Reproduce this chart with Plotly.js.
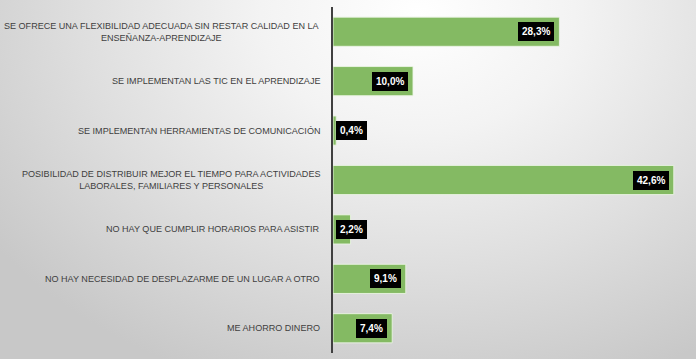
<!DOCTYPE html>
<html>
<head>
<meta charset="utf-8">
<script src="https://cdn.plot.ly/plotly-3.0.1.min.js"></script>
<style>
  html, body { margin: 0; padding: 0; }
  body {
    width: 696px; height: 359px; overflow: hidden;
    background: radial-gradient(ellipse 75% 110% at 60% 4%, #ffffff 0%, #f3f3f3 30%, #dedede 65%, #c8c8c8 100%);
  }
  #chart { width: 696px; height: 359px; }
</style>
</head>
<body>
<div id="chart"></div>
<script>
const categories = [
  "SE OFRECE UNA FLEXIBILIDAD ADECUADA SIN RESTAR CALIDAD EN LA<br>ENSEÑANZA-APRENDIZAJE",
  "SE IMPLEMENTAN LAS TIC EN EL APRENDIZAJE",
  "SE IMPLEMENTAN HERRAMIENTAS DE COMUNICACIÓN",
  "POSIBILIDAD DE DISTRIBUIR MEJOR EL TIEMPO PARA ACTIVIDADES<br>LABORALES, FAMILIARES Y PERSONALES",
  "NO HAY QUE CUMPLIR HORARIOS PARA ASISTIR",
  "NO HAY NECESIDAD DE DESPLAZARME DE UN LUGAR A OTRO",
  "ME AHORRO DINERO"
];
const values = [28.3, 10.0, 0.4, 42.6, 2.2, 9.1, 7.4];
const valueLabels = ["28,3%", "10,0%", "0,4%", "42,6%", "2,2%", "9,1%", "7,4%"];

const FONT = "'Liberation Sans', Arial, sans-serif";

const trace = {
  type: 'bar',
  orientation: 'h',
  x: values,
  y: categories,
  marker: { color: '#84BA63', line: { color: 'rgba(235,245,228,0.9)', width: 1 } },
  hoverinfo: 'none'
};

const annotations = [];
categories.forEach((c, i) => {
  annotations.push({
    xref: 'paper', yref: 'y', x: 0, y: c,
    xanchor: 'right', yanchor: 'middle', xshift: -11,
    text: c, showarrow: false, align: 'center',
    font: { family: FONT, size: 9.05, color: '#404040' }
  });
  const small = values[i] < 5;
  annotations.push({
    xref: 'x', yref: 'y',
    x: small ? 0 : values[i], y: c,
    xanchor: small ? 'left' : 'right', yanchor: 'middle',
    xshift: small ? 3 : -5,
    text: '<b>' + valueLabels[i] + '</b>', showarrow: false,
    bgcolor: '#000000', borderpad: 4, borderwidth: 0,
    font: { family: FONT, size: 10, color: '#ffffff' }
  });
});

const layout = {
  width: 696, height: 359,
  margin: { l: 333, r: 3, t: 7, b: 6 },
  paper_bgcolor: 'rgba(0,0,0,0)',
  plot_bgcolor: 'rgba(0,0,0,0)',
  bargap: 0.41,
  showlegend: false,
  xaxis: { range: [0, 45], visible: false, showgrid: false, zeroline: false, fixedrange: true },
  yaxis: {
    type: 'category', autorange: 'reversed',
    showticklabels: false, ticks: '', showgrid: false, zeroline: false,
    showline: true, linecolor: '#404040', linewidth: 2, fixedrange: true
  },
  annotations: annotations
};

Plotly.newPlot('chart', [trace], layout, { displayModeBar: false, staticPlot: true });
</script>
</body>
</html>
